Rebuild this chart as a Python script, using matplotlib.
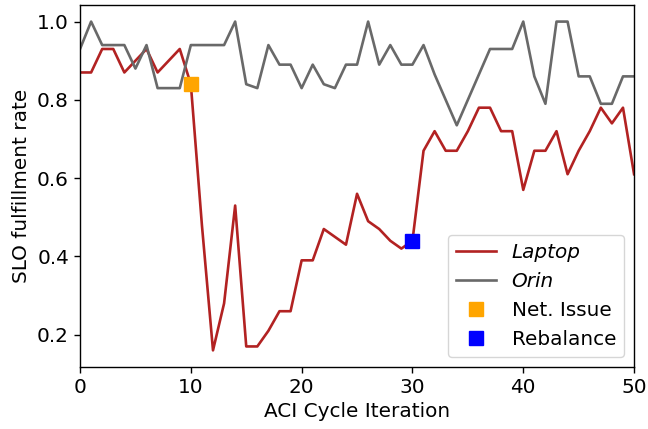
import matplotlib.pyplot as plt
import numpy as np

# SLO fulfillment per ACI cycle, one value per iteration 0..50
iterations = np.arange(0, 51)
laptop = [0.87, 0.87, 0.93, 0.93, 0.87, 0.90, 0.93, 0.87, 0.90, 0.93,
          0.84, 0.48, 0.16, 0.28, 0.53, 0.17, 0.17, 0.21, 0.26, 0.26,
          0.39, 0.39, 0.47, 0.45, 0.43, 0.56, 0.49, 0.47, 0.44, 0.42,
          0.44, 0.67, 0.72, 0.67, 0.67, 0.72, 0.78, 0.78, 0.72, 0.72,
          0.57, 0.67, 0.67, 0.72, 0.61, 0.67, 0.72, 0.78, 0.74, 0.78,
          0.61]
orin = [0.93, 1.00, 0.94, 0.94, 0.94, 0.88, 0.94, 0.83, 0.83, 0.83,
        0.94, 0.94, 0.94, 0.94, 1.00, 0.84, 0.83, 0.94, 0.89, 0.89,
        0.83, 0.89, 0.84, 0.83, 0.89, 0.89, 1.00, 0.89, 0.94, 0.89,
        0.89, 0.94, 0.865, 0.80, 0.735, 0.80, 0.865, 0.93, 0.93, 0.93,
        1.00, 0.86, 0.79, 1.00, 1.00, 0.86, 0.86, 0.79, 0.79, 0.86,
        0.86]

# events
net_issue_x, net_issue_y = [10], [0.84]
rebalance_x, rebalance_y = [30], [0.44]

fs = 14.4
plt.rcParams['axes.linewidth'] = 1.0

fig = plt.figure(figsize=(6.48, 4.29), dpi=100)
ax = fig.add_axes([0.1235, 0.145, 0.855, 0.843])

ax.plot(iterations, laptop, color='#b22222', lw=1.9, label='Laptop')
ax.plot(iterations, orin, color='dimgray', lw=1.9, label='Orin')
ax.plot(net_issue_x, net_issue_y, 's', color='orange', ms=9.5, ls='none', label='Net. Issue')
ax.plot(rebalance_x, rebalance_y, 's', color='blue', ms=9.5, ls='none', label='Rebalance')

ax.set_xlim(0, 50)
ax.set_xlabel('ACI Cycle Iteration', fontsize=fs)
ax.set_ylabel('SLO fulfillment rate', fontsize=fs)
ax.tick_params(labelsize=fs, length=4.5, width=1.0)

leg = ax.legend(loc='lower right', fontsize=fs)
for t in leg.get_texts()[:2]:
    t.set_fontstyle('italic')

fig.savefig('out.png', dpi=100)
